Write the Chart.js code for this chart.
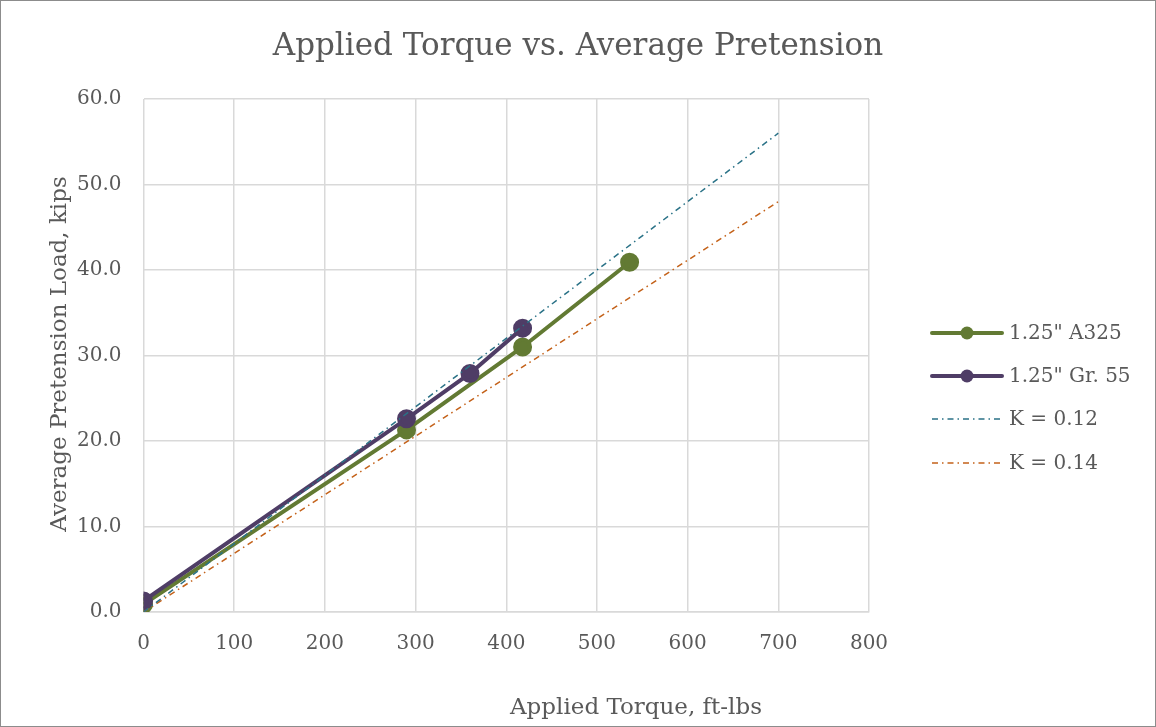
<!DOCTYPE html>
<html>
<head>
<meta charset="utf-8">
<script src="https://cdn.jsdelivr.net/npm/chart.js@4.4.1/dist/chart.umd.min.js"></script>
<style>
  html, body { margin: 0; padding: 0; background: #fff; }
  #wrap { width: 1156px; height: 727px; }
</style>
</head>
<body>
<div id="wrap"><canvas id="chart" width="1156" height="727"></canvas></div>
<script>
// Data
const torqueA325 = [0, 290, 418, 536];
const loadA325 = [0.9, 21.3, 31.0, 40.9];
const torqueGr55 = [0, 290, 360, 418];
const loadGr55 = [1.3, 22.6, 27.9, 33.2];
const torqueK = [0, 700];
const loadK012 = [0, 56.0];
const loadK014 = [0, 48.0];

const seriesNames = ['1.25" A325', '1.25" Gr. 55', 'K = 0.12', 'K = 0.14'];
const seriesColors = ['#627a33', '#4f3d66', '#2a7287', '#c4621a'];
const chartTitle = 'Applied Torque vs. Average Pretension';
const xTitle = 'Applied Torque, ft-lbs';
const yTitle = 'Average Pretension Load, kips';

const FONT = '"DejaVu Serif", "Liberation Serif", serif';
const TEXT = '#595959';
const DASH = [6, 4, 1.5, 4];

const toPoints = (xs, ys) => xs.map((x, i) => ({ x: x, y: ys[i] }));

// Title, axis titles, legend and outer frame, drawn by hand so they sit where Excel put them
const decorations = {
  id: 'decorations',
  afterDraw(chart) {
    const ctx = chart.ctx;
    ctx.save();
    ctx.strokeStyle = '#8c8c8c';
    ctx.lineWidth = 1;
    ctx.strokeRect(0.5, 0.5, chart.width - 1, chart.height - 1);

    ctx.fillStyle = TEXT;
    ctx.textAlign = 'center';
    ctx.textBaseline = 'middle';
    ctx.font = '31px ' + FONT;
    ctx.fillText(chartTitle, 578, 47);

    ctx.font = '23px ' + FONT;
    ctx.fillText(xTitle, 636, 708);

    ctx.save();
    ctx.translate(60, 354);
    ctx.rotate(-Math.PI / 2);
    ctx.fillText(yTitle, 0, 0);
    ctx.restore();

    const x0 = 932, x1 = 1002;
    const rows = [333, 376, 419, 463];
    ctx.font = '20px ' + FONT;
    ctx.textAlign = 'left';
    rows.forEach((y, i) => {
      ctx.strokeStyle = seriesColors[i];
      ctx.beginPath();
      if (i < 2) {
        ctx.lineWidth = 4;
        ctx.lineCap = 'round';
        ctx.setLineDash([]);
      } else {
        ctx.lineWidth = 1.5;
        ctx.lineCap = 'butt';
        ctx.setLineDash(DASH);
      }
      ctx.moveTo(x0, y);
      ctx.lineTo(x1, y);
      ctx.stroke();
      ctx.setLineDash([]);
      if (i < 2) {
        ctx.fillStyle = seriesColors[i];
        ctx.beginPath();
        ctx.arc((x0 + x1) / 2, y, 6.5, 0, Math.PI * 2);
        ctx.fill();
      }
      ctx.fillStyle = TEXT;
      ctx.fillText(seriesNames[i], x1 + 7, y + 1);
    });
    ctx.restore();
  }
};

new Chart(document.getElementById('chart'), {
  type: 'scatter',
  data: {
    datasets: [
      {
        label: seriesNames[0],
        data: toPoints(torqueA325, loadA325),
        showLine: true,
        borderColor: seriesColors[0],
        backgroundColor: seriesColors[0],
        borderWidth: 4,
        pointRadius: 7.5,
        pointHoverRadius: 7.5,
        order: 2
      },
      {
        label: seriesNames[1],
        data: toPoints(torqueGr55, loadGr55),
        showLine: true,
        borderColor: seriesColors[1],
        backgroundColor: seriesColors[1],
        borderWidth: 4,
        pointRadius: 7.5,
        pointHoverRadius: 7.5,
        order: 1
      },
      {
        label: seriesNames[2],
        data: toPoints(torqueK, loadK012),
        showLine: true,
        borderColor: seriesColors[2],
        borderWidth: 1.5,
        borderDash: DASH,
        pointRadius: 0,
        order: 0
      },
      {
        label: seriesNames[3],
        data: toPoints(torqueK, loadK014),
        showLine: true,
        borderColor: seriesColors[3],
        borderWidth: 1.5,
        borderDash: DASH,
        pointRadius: 0,
        order: 0
      }
    ]
  },
  options: {
    responsive: false,
    animation: false,
    layout: {
      padding: { left: 55, right: 287, top: 99, bottom: 51 }
    },
    plugins: {
      legend: { display: false },
      tooltip: { enabled: false },
      title: { display: false }
    },
    scales: {
      x: {
        type: 'linear',
        min: 0,
        max: 800,
        ticks: {
          stepSize: 100,
          color: TEXT,
          font: { family: FONT, size: 20 },
          padding: 20
        },
        grid: { color: '#d9d9d9', lineWidth: 1.5, drawTicks: false },
        border: { color: '#d9d9d9', width: 1.5 }
      },
      y: {
        type: 'linear',
        min: 0,
        max: 60,
        ticks: {
          stepSize: 10,
          color: TEXT,
          font: { family: FONT, size: 20 },
          padding: 22,
          callback: v => v.toFixed(1)
        },
        grid: { color: '#d9d9d9', lineWidth: 1.5, drawTicks: false },
        border: { display: false }
      }
    }
  },
  plugins: [decorations]
});
</script>
</body>
</html>
